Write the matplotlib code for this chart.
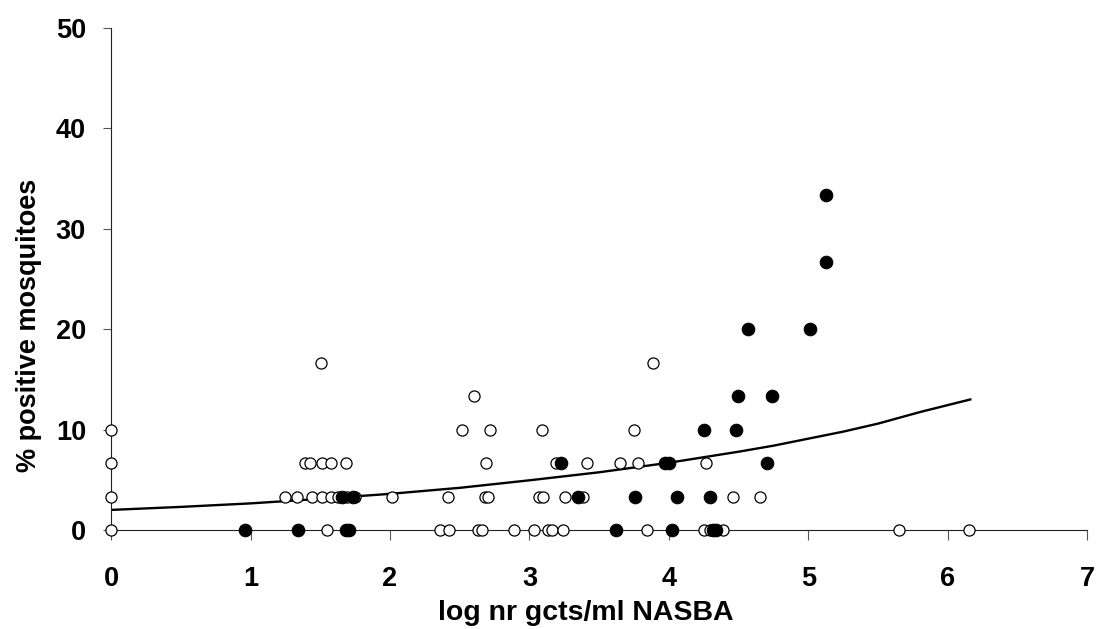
import matplotlib
matplotlib.use("Agg")
import matplotlib.pyplot as plt

plt.rcParams['font.family'] = ['Liberation Sans', 'DejaVu Sans']

# open circles (x = log nr gcts/ml NASBA, y = % positive mosquitoes)
open_x = [0, 0, 0, 0,
          1.505,
          1.39, 1.425, 1.515, 1.575, 1.685,
          1.245, 1.335, 1.44, 1.515, 1.575, 1.625, 1.695, 1.75, 2.015,
          1.548,
          2.60,
          2.515, 2.714, 3.087, 3.747,
          3.882,
          2.690, 3.192, 3.412, 3.652, 3.778,
          2.419, 2.680, 2.704, 3.067, 3.096, 3.257, 3.383,
          2.355, 2.426, 2.630, 2.658, 2.888, 3.029, 3.132, 3.164, 3.238, 3.843,
          4.262,
          4.460, 4.652,
          4.252, 4.293, 4.384,
          5.652, 6.152]
open_y = [0, 3.33, 6.67, 10,
          16.67,
          6.67, 6.67, 6.67, 6.67, 6.67,
          3.33, 3.33, 3.33, 3.33, 3.33, 3.33, 3.33, 3.33, 3.33,
          0,
          13.33,
          10, 10, 10, 10,
          16.67,
          6.67, 6.67, 6.67, 6.67, 6.67,
          3.33, 3.33, 3.33, 3.33, 3.33, 3.33, 3.33,
          0, 0, 0, 0, 0, 0, 0, 0, 0, 0,
          6.67,
          3.33, 3.33,
          0, 0, 0,
          0, 0]

# filled circles
filled_x = [0.960, 1.342, 1.685, 1.703, 3.623, 4.020, 4.317, 4.336,
            1.656, 1.737, 3.347, 3.754, 4.061, 4.293,
            3.228, 3.97, 4.0, 4.700,
            4.252, 4.480,
            4.492, 4.740,
            4.568, 5.013,
            5.125, 5.125]
filled_y = [0, 0, 0, 0, 0, 0, 0, 0,
            3.33, 3.33, 3.33, 3.33, 3.33, 3.33,
            6.67, 6.67, 6.67, 6.67,
            10, 10,
            13.33, 13.33,
            20, 20,
            26.67, 33.33]

# fitted trend curve
trend_x = [0, 0.5, 1, 1.5, 2, 2.5, 3, 3.5, 4, 4.5, 4.75, 5, 5.25, 5.5, 5.8, 6.16]
trend_y = [2.0, 2.3, 2.65, 3.1, 3.6, 4.2, 4.95, 5.75, 6.7, 7.8, 8.4, 9.1, 9.8, 10.6, 11.75, 13.0]

x_ticks = [0, 1, 2, 3, 4, 5, 6, 7]
y_ticks = [0, 10, 20, 30, 40, 50]

fig = plt.figure(figsize=(10.97, 6.29), dpi=100)
ax = fig.add_axes([0.1012, 0.1574, 0.8901, 0.7981])

ax.plot(trend_x, trend_y, color='black', lw=1.7, zorder=2)
ax.plot(open_x, open_y, 'o', ms=8.0, mfc='white', mec='black', mew=0.9,
        ls='none', clip_on=False, zorder=3)
ax.plot(filled_x, filled_y, 'o', ms=9.0, mfc='black', mec='black', mew=0.8,
        ls='none', clip_on=False, zorder=4)

ax.set_xlim(0, 7)
ax.set_ylim(0, 50)
ax.set_xticks(x_ticks)
ax.set_yticks(y_ticks)
for s in ['top', 'right']:
    ax.spines[s].set_visible(False)
for s in ['left', 'bottom']:
    ax.spines[s].set_linewidth(0.8)
    ax.spines[s].set_color('#222222')

ax.tick_params(axis='x', direction='out', length=7.2, width=0.8, color='#555555',
               pad=19, labelsize=19.5)
ax.tick_params(axis='y', direction='out', length=6, width=0.8, color='#555555',
               pad=12, labelsize=19.5)
for lab in ax.get_xticklabels() + ax.get_yticklabels():
    lab.set_fontweight('bold')

ax.set_xlabel('log nr gcts/ml NASBA', fontsize=20.5, fontweight='bold')
ax.set_ylabel('% positive mosquitoes', fontsize=19.5, fontweight='bold')
ax.xaxis.set_label_coords(0.486, -0.14)
ax.yaxis.set_label_coords(-0.0707, 0.408)

fig.savefig('out.png', dpi=100)
